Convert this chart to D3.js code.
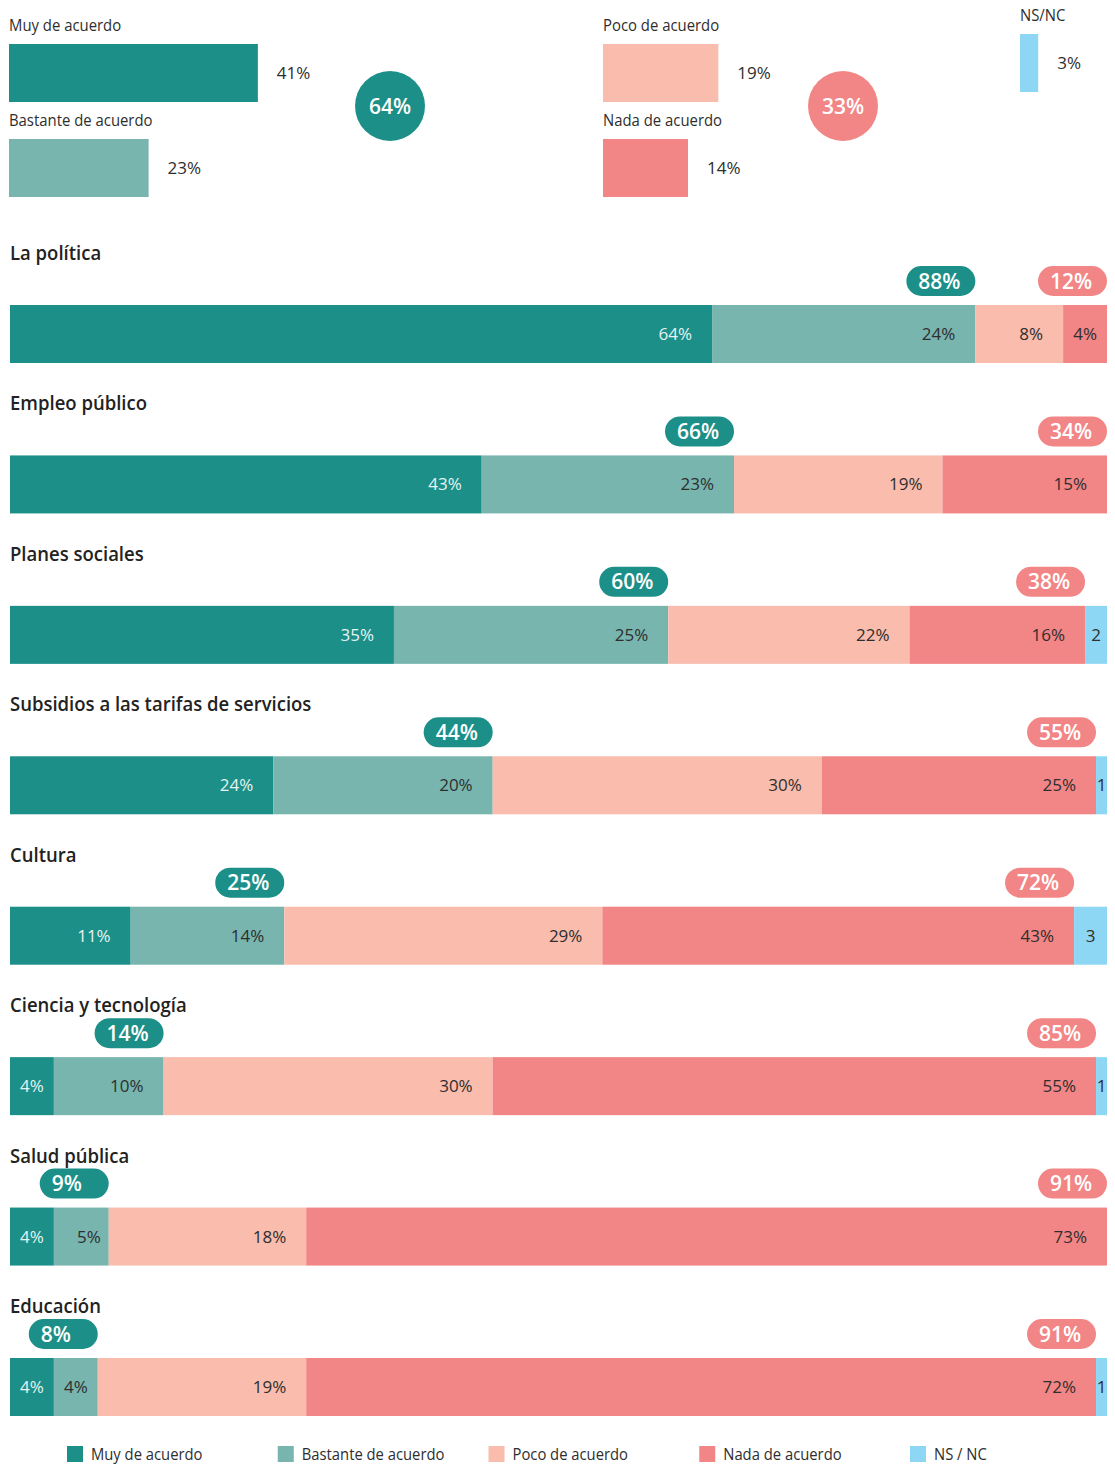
<!DOCTYPE html>
<html>
<head>
<meta charset="utf-8">
<script src="https://cdn.jsdelivr.net/npm/d3@7"></script>
<style>
  body { margin: 0; background: #fff; }
  svg { display: block; font-family: "Open Sans", "Roboto", sans-serif; }
</style>
</head>
<body>
<svg width="1115" height="1464"></svg>
<script>
// categorías y respuestas
var categories = ["La política", "Empleo público", "Planes sociales", "Subsidios a las tarifas de servicios",
  "Cultura", "Ciencia y tecnología", "Salud pública", "Educación"];
var responses = ["Muy de acuerdo", "Bastante de acuerdo", "Poco de acuerdo", "Nada de acuerdo", "NS/NC"];
var legendLabels = ["Muy de acuerdo", "Bastante de acuerdo", "Poco de acuerdo", "Nada de acuerdo", "NS / NC"];

// valores por categoría (%)
var muy      = [64, 43, 35, 24, 11, 4, 4, 4];
var bastante = [24, 23, 25, 20, 14, 10, 5, 4];
var poco     = [8, 19, 22, 30, 29, 30, 18, 19];
var nada     = [4, 15, 16, 25, 43, 55, 73, 72];
var nsnc     = [0, 0, 2, 1, 3, 1, 0, 1];
var totalAcuerdo    = [88, 66, 60, 44, 25, 14, 9, 8];
var totalDesacuerdo = [12, 34, 38, 55, 72, 85, 91, 91];

// resumen general
var overall = [41, 23, 19, 14, 3];
var overallAcuerdo = 64, overallDesacuerdo = 33;

var colors = ["#1b8f88", "#77b5ae", "#f9bcad", "#f28585", "#8dd7f5"];
var color = d3.scaleOrdinal().domain(responses).range(colors);

var svg = d3.select("svg"),
    width = +svg.attr("width");

var textDark = "#2e2e2e";

// la fuente original es condensada: se comprime el texto un poco
function squeeze(sel, k) {
  sel.each(function() {
    var len = this.getComputedTextLength();
    d3.select(this).attr("textLength", len * k).attr("lengthAdjust", "spacingAndGlyphs");
  });
}

// ---------- resumen arriba ----------
var sx = d3.scaleLinear().domain([0, 100]).range([0, 607]);

var summary = [
  {i: 0, x: 9, y: 44, label: "Muy de acuerdo"},
  {i: 1, x: 9, y: 139, label: "Bastante de acuerdo"},
  {i: 2, x: 603, y: 44, label: "Poco de acuerdo"},
  {i: 3, x: 603, y: 139, label: "Nada de acuerdo"},
  {i: 4, x: 1020, y: 34, label: "NS/NC"}
];

var sg = svg.append("g").selectAll("g")
  .data(summary)
  .enter().append("g")
    .attr("transform", function(d) { return "translate(" + d.x + "," + d.y + ")"; });

sg.append("text")
  .attr("y", -13)
  .attr("fill", textDark)
  .style("font-size", "17px")
  .text(function(d) { return d.label; })
  .call(squeeze, 0.875);

sg.append("rect")
  .attr("width", function(d) { return sx(overall[d.i]); })
  .attr("height", 58)
  .attr("fill", function(d) { return colors[d.i]; });

sg.append("text")
  .attr("x", function(d) { return sx(overall[d.i]) + 19; })
  .attr("y", 29)
  .attr("dy", "0.35em")
  .attr("fill", textDark)
  .style("font-size", "17px")
  .text(function(d) { return overall[d.i] + "%"; });

var circles = [
  {x: 390, v: overallAcuerdo, c: colors[0]},
  {x: 843, v: overallDesacuerdo, c: colors[3]}
];
var cg = svg.append("g").selectAll("g")
  .data(circles)
  .enter().append("g")
    .attr("transform", function(d) { return "translate(" + d.x + ",106)"; });
cg.append("circle").attr("r", 35).attr("fill", function(d) { return d.c; });
cg.append("text")
  .attr("text-anchor", "middle")
  .attr("dy", "0.36em")
  .attr("fill", "#fff")
  .style("font-size", "21px")
  .style("font-weight", "600")
  .text(function(d) { return d.v + "%"; });

// ---------- barras apiladas ----------
var rows = categories.map(function(c, i) {
  return {category: c, "Muy de acuerdo": muy[i], "Bastante de acuerdo": bastante[i],
    "Poco de acuerdo": poco[i], "Nada de acuerdo": nada[i], "NS/NC": nsnc[i],
    acuerdo: totalAcuerdo[i], desacuerdo: totalDesacuerdo[i]};
});

var x = d3.scaleLinear().domain([0, 100]).range([10, 1107]);
var y = d3.scaleBand().domain(categories).range([305, 1416]).paddingInner(0.6144).paddingOuter(0);

var stack = d3.stack().keys(responses);
var series = stack(rows);

var row = svg.append("g").selectAll("g")
  .data(rows)
  .enter().append("g")
    .attr("transform", function(d) { return "translate(0," + y(d.category) + ")"; });

row.append("text")
  .attr("x", 10)
  .attr("y", -45)
  .attr("fill", "#222")
  .style("font-size", "20px")
  .style("font-weight", "600")
  .text(function(d) { return d.category; })
  .call(squeeze, 0.925);

var layer = svg.append("g").selectAll("g")
  .data(series)
  .enter().append("g")
    .attr("fill", function(d) { return color(d.key); });

layer.selectAll("rect")
  .data(function(d) { return d.filter(function(s) { return s[1] - s[0] > 0; }); })
  .enter().append("rect")
    .attr("x", function(d) { return x(d[0]); })
    .attr("y", function(d) { return y(d.data.category); })
    .attr("width", function(d) { return x(d[1]) - x(d[0]); })
    .attr("height", y.bandwidth());

layer.each(function(s, k) {
  d3.select(this).selectAll("text")
    .data(s.filter(function(d) { return d[1] - d[0] > 0; }))
    .enter().append("text")
      .each(function(d) {
        var w = x(d[1]) - x(d[0]);
        var t = d3.select(this);
        if (w < 50) {
          t.attr("x", (x(d[0]) + x(d[1])) / 2).attr("text-anchor", "middle");
        } else {
          t.attr("x", x(d[1]) - (w < 70 ? 8 : 20)).attr("text-anchor", "end");
        }
      })
      .attr("y", function(d) { return y(d.data.category) + y.bandwidth() / 2; })
      .attr("dy", "0.35em")
      .attr("fill", k === 0 ? "#e6f3f1" : textDark)
      .style("font-size", "17px")
      .text(function(d) { return s.key === "NS/NC" ? (d[1] - d[0]) : (d[1] - d[0]) + "%"; });
});

// pastillas de totales
var pillW = 69, pillH = 30;
function pill(sel, key, total, c) {
  var g = sel.append("g")
    .attr("transform", function(d) {
      return "translate(" + (x(d[key]) - pillW) + "," + (-24 - pillH / 2) + ")";
    });
  g.append("rect")
    .attr("width", pillW)
    .attr("height", pillH)
    .attr("rx", pillH / 2)
    .attr("fill", c);
  g.append("text")
    .attr("x", 12)
    .attr("y", pillH / 2)
    .attr("dy", "0.36em")
    .attr("fill", "#fff")
    .style("font-size", "21px")
    .style("font-weight", "600")
    .text(function(d) { return d[total] + "%"; });
}
rows.forEach(function(d) {
  d.endAcuerdo = d["Muy de acuerdo"] + d["Bastante de acuerdo"];
  d.endDesacuerdo = d.endAcuerdo + d["Poco de acuerdo"] + d["Nada de acuerdo"];
});
pill(row, "endAcuerdo", "acuerdo", colors[0]);
pill(row, "endDesacuerdo", "desacuerdo", colors[3]);

// ---------- leyenda ----------
var lxScale = d3.scalePoint().domain(legendLabels).range([67, 910]);
var legendItem = svg.append("g").selectAll("g")
  .data(legendLabels)
  .enter().append("g")
    .attr("transform", function(d) { return "translate(" + lxScale(d) + ",1454)"; });
legendItem.append("rect")
  .attr("y", -8)
  .attr("width", 16)
  .attr("height", 16)
  .attr("fill", function(d, i) { return colors[i]; });
legendItem.append("text")
  .attr("x", 24)
  .attr("dy", "0.35em")
  .attr("fill", textDark)
  .style("font-size", "17px")
  .text(function(d) { return d; })
  .call(squeeze, 0.87);
</script>
</body>
</html>
